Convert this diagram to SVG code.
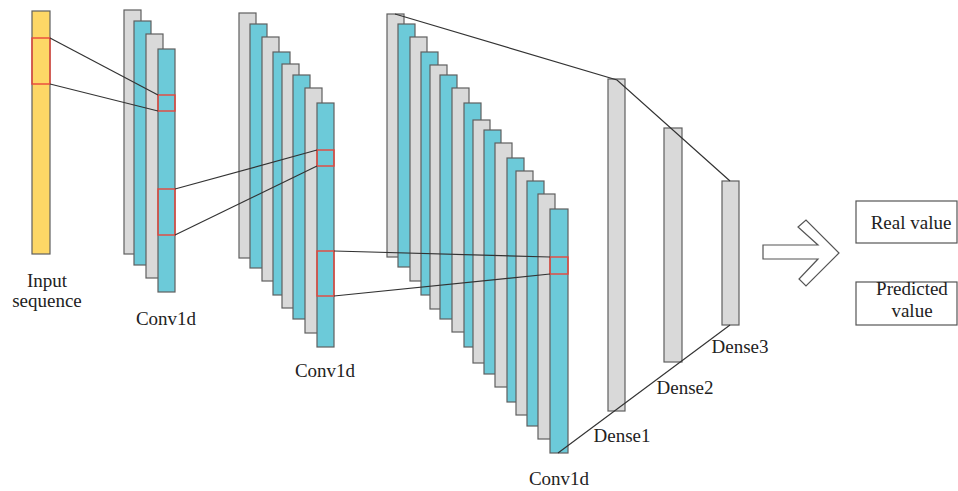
<svg xmlns="http://www.w3.org/2000/svg" width="958" height="491" viewBox="0 0 958 491">
<style>
  .g{fill:#D9D9D9;stroke:#5f5f5f;stroke-width:1.2}
  .c{fill:#6CCAD9;stroke:#5f5f5f;stroke-width:1.2}
  .y{fill:#FDD766;stroke:#5f5f5f;stroke-width:1.2}
  .r{fill:none;stroke:#E8473C;stroke-width:1.4}
  .ln{stroke:#333;stroke-width:1.2;fill:none}
  .box{fill:#fff;stroke:#555;stroke-width:1.2}
  text{font-family:"Liberation Serif","Times New Roman",serif;font-size:19px;fill:#222;text-anchor:middle}
</style>
<rect width="958" height="491" fill="#fff"/>
<g id="input">
  <rect class="y" x="32" y="11" width="18" height="243"/>
  <rect class="r" x="32" y="38" width="18" height="46"/>
  <text x="47" y="287">Input</text>
  <text x="47" y="307">sequence</text>
</g>
<g id="conv1">
  <rect class="g" x="124" y="10" width="17" height="244"/>
  <rect class="c" x="134" y="21" width="17" height="244"/>
  <rect class="g" x="146" y="34" width="17" height="244"/>
  <rect class="c" x="158" y="49" width="17" height="243"/>
  <rect class="r" x="158" y="95" width="17" height="16"/>
  <rect class="r" x="158" y="189" width="17" height="46"/>
  <text x="166" y="325">Conv1d</text>
</g>
<g id="conv2">
  <rect class="g" x="239" y="13" width="17" height="245"/>
  <rect class="c" x="250" y="24" width="17" height="244"/>
  <rect class="g" x="262" y="37" width="17" height="244"/>
  <rect class="c" x="273" y="52" width="17" height="243"/>
  <rect class="g" x="282" y="64" width="17" height="244"/>
  <rect class="c" x="293" y="75" width="17" height="244"/>
  <rect class="g" x="305" y="88" width="17" height="245"/>
  <rect class="c" x="317" y="103" width="17" height="244"/>
  <rect class="r" x="317" y="150" width="17" height="16"/>
  <rect class="r" x="317" y="251" width="17" height="45"/>
  <text x="325" y="377">Conv1d</text>
</g>
<g id="conv3">
  <rect class="g" x="387" y="14" width="17" height="243"/>
  <rect class="c" x="398" y="24" width="17" height="243"/>
  <rect class="g" x="410" y="37" width="17" height="244"/>
  <rect class="c" x="421" y="52" width="17" height="243"/>
  <rect class="g" x="430" y="65" width="17" height="244"/>
  <rect class="c" x="440" y="75" width="17" height="244"/>
  <rect class="g" x="452" y="88" width="17" height="244"/>
  <rect class="c" x="464" y="103" width="17" height="244"/>
  <rect class="g" x="473" y="120" width="17" height="243"/>
  <rect class="c" x="484" y="130" width="17" height="244"/>
  <rect class="g" x="495" y="143" width="17" height="244"/>
  <rect class="c" x="507" y="158" width="17" height="244"/>
  <rect class="g" x="516" y="171" width="17" height="244"/>
  <rect class="c" x="527" y="181" width="17" height="245"/>
  <rect class="g" x="538" y="194" width="17" height="245"/>
  <rect class="c" x="550" y="209" width="18" height="244"/>
  <rect class="r" x="550" y="257" width="18" height="17"/>
  <text x="559" y="485">Conv1d</text>
</g>
<g id="dense1">
  <rect class="g" x="608" y="79" width="17" height="332"/>
  <text x="622" y="442">Dense1</text>
</g>
<g id="dense2">
  <rect class="g" x="664" y="128" width="18" height="234"/>
  <text x="685" y="394">Dense2</text>
</g>
<g id="dense3">
  <rect class="g" x="722" y="181" width="17" height="144"/>
  <text x="740" y="353">Dense3</text>
</g>
<g id="connectors">
  <line class="ln" x1="50" y1="38" x2="158" y2="95"/>
  <line class="ln" x1="50" y1="84" x2="158" y2="111"/>
  <line class="ln" x1="175" y1="189" x2="317" y2="150"/>
  <line class="ln" x1="175" y1="235" x2="317" y2="166"/>
  <line class="ln" x1="334" y1="251" x2="550" y2="257"/>
  <line class="ln" x1="334" y1="296" x2="550" y2="274"/>
  <polyline class="ln" points="395,14 617,80 730,181"/>
  <line class="ln" x1="558" y1="453" x2="730" y2="325"/>
</g>
<g id="arrow">
  <polygon fill="#fff" stroke="#555" stroke-width="1.2" points="763,245 818,245 798,227 806,220 839,253 806,286 799,279 818,259 763,259"/>
</g>
<g id="real">
  <rect class="box" x="856" y="201" width="101" height="42"/>
  <text x="911" y="229">Real value</text>
</g>
<g id="predicted">
  <rect class="box" x="856" y="282" width="101" height="43"/>
  <text x="912" y="295">Predicted</text>
  <text x="912" y="317">value</text>
</g>
</svg>
